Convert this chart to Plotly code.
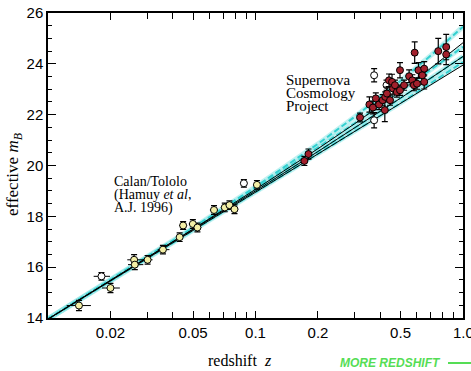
import plotly.graph_objects as go

# ---------------- data ----------------
# theory curves
curve_z = [0.01, 0.02, 0.05, 0.1, 0.2, 0.3, 0.5, 0.7, 1.0]
flat_L1 = [13.97, 15.50, 17.55, 19.16, 20.85, 21.91, 23.33, 24.33, 25.46]     # (0,1)
flat_L05 = [13.96, 15.48, 17.51, 19.08, 20.69, 21.66, 22.92, 23.76, 24.67]    # (0.5,0.5)
flat_L0 = [13.96, 15.47, 17.47, 19.00, 20.55, 21.47, 22.65, 23.44, 24.29]     # (1,0)
flat_Lm05 = [13.95, 15.45, 17.44, 18.94, 20.45, 21.34, 22.46, 23.25, 24.07]   # (1.5,-0.5)
open_M0 = [13.96, 15.48, 17.50, 19.06, 20.66, 21.64, 22.93, 23.83, 24.83]     # (0,0)
open_M1 = [13.96, 15.47, 17.47, 19.00, 20.55, 21.47, 22.65, 23.44, 24.29]     # (1,0)
open_M2 = [13.95, 15.455, 17.445, 18.95, 20.455, 21.335, 22.445, 23.175, 23.95]  # (2,0)

# Calan/Tololo
ct_z = [0.0141, 0.0200, 0.0260, 0.0262, 0.0302, 0.0358, 0.0431, 0.0448, 0.0499,
        0.0525, 0.0631, 0.0711, 0.0749, 0.0792, 0.1016]
ct_m = [14.49, 15.18, 16.29, 16.10, 16.29, 16.69, 17.18, 17.64, 17.70,
        17.56, 18.25, 18.35, 18.44, 18.28, 19.24]
ct_dm = [0.2, 0.18, 0.2, 0.2, 0.17, 0.17, 0.17, 0.15, 0.17,
         0.17, 0.17, 0.17, 0.17, 0.17, 0.17]
ct_dz_plus = [0.0020, 0.0022, 0.0026, 0.0026, 0.0017, 0.0027, 0.0016, 0.0020, 0.0022,
              0.0023, 0.0028, 0.0030, 0.0030, 0.0033, 0.0040]
ct_dz_minus = [0.0018, 0.0018, 0.0019, 0.0019, 0.0017, 0.0020, 0.0016, 0.0020, 0.0022,
               0.0023, 0.0028, 0.0030, 0.0030, 0.0033, 0.0040]
# Calan/Tololo excluded (open)
cto_z = [0.0181, 0.0879]
cto_m = [15.64, 19.30]
cto_dm = [0.15, 0.15]
cto_dz_plus = [0.0018, 0.0035]
cto_dz_minus = [0.0015, 0.0035]

# Supernova Cosmology Project
scp_z = [0.172, 0.180, 0.319, 0.354, 0.368, 0.380, 0.394, 0.410, 0.420, 0.422, 0.430,
         0.440, 0.445, 0.455, 0.460, 0.470, 0.480, 0.497, 0.497, 0.520, 0.550, 0.570,
         0.580, 0.585, 0.600, 0.610, 0.636, 0.650, 0.650, 0.760, 0.830, 0.830]
scp_m = [20.18, 20.45, 21.89, 22.40, 22.28, 22.64, 22.40, 22.57, 22.18, 22.70, 22.83,
         23.35, 22.57, 23.29, 23.03, 23.16, 22.89, 23.75, 22.96, 23.16, 23.51, 23.35,
         23.16, 24.44, 23.22, 23.75, 23.55, 23.81, 23.29, 24.50, 24.66, 24.37]
scp_dm = [0.18, 0.2, 0.17, 0.3, 0.25, 0.22, 0.2, 0.22, 0.45, 0.2, 0.25,
          0.25, 0.2, 0.3, 0.22, 0.2, 0.2, 0.3, 0.2, 0.2, 0.25, 0.22,
          0.22, 0.42, 0.22, 0.3, 0.25, 0.28, 0.28, 0.5, 0.5, 0.4]
scpo_z = [0.373, 0.373, 0.428]
scpo_m = [23.55, 21.78, 23.16]
scpo_dm = [0.26, 0.3, 0.2]

x_major = [0.02, 0.05, 0.1, 0.2, 0.5, 1.0]
x_labels = ["0.02", "0.05", "0.1", "0.2", "0.5", "1.0"]
x_minor = [0.03, 0.04, 0.06, 0.07, 0.08, 0.09, 0.3, 0.4, 0.6, 0.7, 0.8, 0.9]
y_major = [14, 16, 18, 20, 22, 24, 26]
y_minor = [14.5, 15, 15.5, 16.5, 17, 17.5, 18.5, 19, 19.5, 20.5, 21, 21.5,
           22.5, 23, 23.5, 24.5, 25, 25.5]

# ---------------- figure ----------------
SERIF = "Liberation Serif, Times New Roman, serif"
SANS = "Liberation Sans, Arial, sans-serif"
HALO = "rgba(150,232,232,0.6)"
DASHC = "#33d0d0"

fig = go.Figure()

for c in [flat_L1, flat_L05, flat_L0, flat_Lm05]:
    fig.add_trace(go.Scatter(x=curve_z, y=c, mode="lines",
                             line=dict(color=HALO, width=5), hoverinfo="skip"))
for c in [flat_L1, flat_L05, flat_L0, flat_Lm05]:
    fig.add_trace(go.Scatter(x=curve_z, y=c, mode="lines",
                             line=dict(color=DASHC, width=2, dash="6px,3px"),
                             hoverinfo="skip"))
for c in [open_M0, open_M1, open_M2]:
    fig.add_trace(go.Scatter(x=curve_z, y=c, mode="lines",
                             line=dict(color="black", width=1), hoverinfo="skip"))

def pts(x, y, dy, color, dxp=None, dxm=None):
    kw = {}
    if dxp is not None:
        kw["error_x"] = dict(type="data", array=dxp, arrayminus=dxm, symmetric=False,
                             color="black", thickness=1, width=0)
    return go.Scatter(x=x, y=y, mode="markers",
                      marker=dict(size=7, color=color, line=dict(color="black", width=1)),
                      error_y=dict(type="data", array=dy, color="black", thickness=1.2, width=3),
                      **kw)

fig.add_trace(pts(ct_z, ct_m, ct_dm, "#f3efa6", ct_dz_plus, ct_dz_minus))
fig.add_trace(pts(cto_z, cto_m, cto_dm, "white", cto_dz_plus, cto_dz_minus))
fig.add_trace(pts(scpo_z, scpo_m, scpo_dm, "white"))
fig.add_trace(pts(scp_z, scp_m, scp_dm, "#a3202c"))

L, R, T, B = 48, 463, 13, 318
W, H = R - L, B - T

def px(x):
    return (x - L) / W

def py(y):
    return (B - y) / H

ann = []
def text(x, y, s, size, family=SERIF, xanchor="left", color="black", angle=0):
    ann.append(dict(x=px(x), y=py(y), xref="paper", yref="paper", text=s,
                    showarrow=False, xanchor=xanchor, yanchor="middle",
                    textangle=angle, font=dict(size=size, family=family, color=color)))

text(284, 80, "Supernova", 15)
text(284, 93, "Cosmology", 15)
text(284, 106, "Project", 15)
text(112, 181, "Calan/Tololo", 14)
text(112, 195, "(Hamuy <i>et al</i>,", 14)
text(112, 208, "A.J. 1996)", 14)
text(240, 360, "redshift  <i>z</i>", 16, xanchor="center")
text(14, 175, "effective <i>m<sub>B</sub></i>", 17, xanchor="center", angle=-90)
text(338, 363, "<b><i>MORE REDSHIFT</i></b>", 12, family=SANS, color="#55dd55")
text(463, 332, "1.0", 15, family=SANS, xanchor="center")

fig.add_shape(type="line", xref="paper", yref="paper",
              x0=px(448), x1=px(471), y0=py(363), y1=py(363),
              line=dict(color="#55dd55", width=2))

axis_common = dict(showline=True, linecolor="black", linewidth=1.5, mirror="allticks",
                   ticks="inside", tickcolor="black", showgrid=False, zeroline=False,
                   tickfont=dict(family=SANS, size=15, color="black"))

fig.update_xaxes(type="log", range=[-2, 0], tickmode="array", tickvals=x_major,
                 ticktext=x_labels, ticklen=7, tickwidth=1,
                 minor=dict(tickmode="array", tickvals=x_minor, ticks="inside",
                            ticklen=6, tickcolor="black", showgrid=False),
                 **axis_common)
fig.update_yaxes(range=[14, 26], tickmode="array", tickvals=y_major,
                 ticktext=[str(v) for v in y_major], ticklen=8, tickwidth=1,
                 minor=dict(tickmode="array", tickvals=y_minor, ticks="inside",
                            ticklen=4, tickcolor="black", showgrid=False),
                 **axis_common)

fig.update_layout(width=471, height=371, showlegend=False,
                  margin=dict(l=L, r=471 - R, t=T, b=371 - B, autoexpand=False),
                  paper_bgcolor="white", plot_bgcolor="white",
                  annotations=ann)

fig.write_html("out.html", config={"displayModeBar": False},
               post_script="document.body.style.margin='0px';document.body.style.overflow='hidden';")
